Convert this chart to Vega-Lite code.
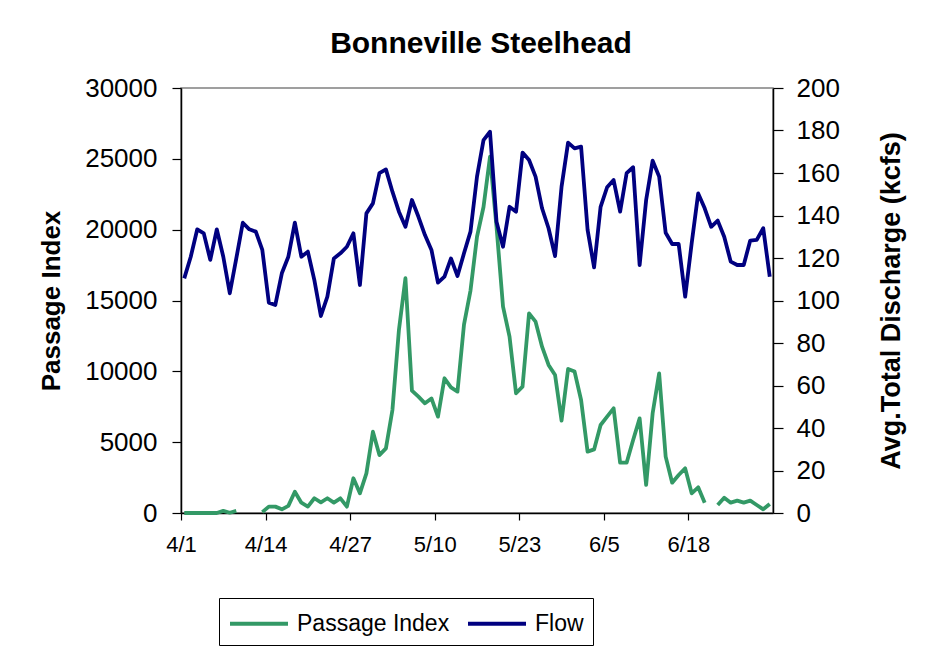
{
  "$schema": "https://vega.github.io/schema/vega-lite/v6.json",
  "autosize": "none",
  "width": 592,
  "height": 425,
  "padding": {"left": 181, "top": 88, "right": 167, "bottom": 140},
  "background": "white",
  "title": {
    "text": "Bonneville Steelhead",
    "font": "Liberation Sans",
    "fontSize": 30,
    "fontWeight": "bold",
    "color": "black",
    "anchor": "middle",
    "offset": 16,
    "dx": 4
  },
  "data": {
    "values": [
      {"date": "2004/04/01", "passage": 0, "flow": 110.4},
      {"date": "2004/04/02", "passage": 0, "flow": 120.6},
      {"date": "2004/04/03", "passage": 0, "flow": 133.5},
      {"date": "2004/04/04", "passage": 0, "flow": 131.6},
      {"date": "2004/04/05", "passage": 0, "flow": 119.1},
      {"date": "2004/04/06", "passage": 0, "flow": 133.5},
      {"date": "2004/04/07", "passage": 150, "flow": 120.6},
      {"date": "2004/04/08", "passage": 20, "flow": 103.4},
      {"date": "2004/04/09", "passage": 150, "flow": 119.8},
      {"date": "2004/04/10", "passage": null, "flow": 136.6},
      {"date": "2004/04/11", "passage": null, "flow": 133.5},
      {"date": "2004/04/12", "passage": null, "flow": 132.4},
      {"date": "2004/04/13", "passage": 60, "flow": 123.8},
      {"date": "2004/04/14", "passage": 450, "flow": 99.0},
      {"date": "2004/04/15", "passage": 450, "flow": 97.9},
      {"date": "2004/04/16", "passage": 260, "flow": 112.8},
      {"date": "2004/04/17", "passage": 500, "flow": 120.6},
      {"date": "2004/04/18", "passage": 1500, "flow": 136.6},
      {"date": "2004/04/19", "passage": 730, "flow": 120.6},
      {"date": "2004/04/20", "passage": 450, "flow": 123.0},
      {"date": "2004/04/21", "passage": 1040, "flow": 109.6},
      {"date": "2004/04/22", "passage": 750, "flow": 92.7},
      {"date": "2004/04/23", "passage": 1040, "flow": 101.8},
      {"date": "2004/04/24", "passage": 730, "flow": 119.8},
      {"date": "2004/04/25", "passage": 1035, "flow": 122.2},
      {"date": "2004/04/26", "passage": 450, "flow": 125.3},
      {"date": "2004/04/27", "passage": 2450, "flow": 131.6},
      {"date": "2004/04/28", "passage": 1390, "flow": 107.3},
      {"date": "2004/04/29", "passage": 2800, "flow": 141.0},
      {"date": "2004/04/30", "passage": 5740, "flow": 145.7},
      {"date": "2004/05/01", "passage": 4090, "flow": 159.9},
      {"date": "2004/05/02", "passage": 4560, "flow": 161.7},
      {"date": "2004/05/03", "passage": 7270, "flow": 151.2},
      {"date": "2004/05/04", "passage": 12920, "flow": 141.8},
      {"date": "2004/05/05", "passage": 16570, "flow": 134.7},
      {"date": "2004/05/06", "passage": 8640, "flow": 147.3},
      {"date": "2004/05/07", "passage": 8210, "flow": 139.4},
      {"date": "2004/05/08", "passage": 7740, "flow": 130.8},
      {"date": "2004/05/09", "passage": 8090, "flow": 123.8},
      {"date": "2004/05/10", "passage": 6800, "flow": 108.4},
      {"date": "2004/05/11", "passage": 9510, "flow": 111.2},
      {"date": "2004/05/12", "passage": 8870, "flow": 119.8},
      {"date": "2004/05/13", "passage": 8570, "flow": 111.5},
      {"date": "2004/05/14", "passage": 13300, "flow": 122.2},
      {"date": "2004/05/15", "passage": 15700, "flow": 132.4},
      {"date": "2004/05/16", "passage": 19500, "flow": 158.3},
      {"date": "2004/05/17", "passage": 21600, "flow": 175.5},
      {"date": "2004/05/18", "passage": 25150, "flow": 179.4},
      {"date": "2004/05/19", "passage": 20200, "flow": 137.1},
      {"date": "2004/05/20", "passage": 14570, "flow": 125.3},
      {"date": "2004/05/21", "passage": 12450, "flow": 144.1},
      {"date": "2004/05/22", "passage": 8450, "flow": 141.8},
      {"date": "2004/05/23", "passage": 8920, "flow": 169.6},
      {"date": "2004/05/24", "passage": 14090, "flow": 166.1},
      {"date": "2004/05/25", "passage": 13510, "flow": 158.3},
      {"date": "2004/05/26", "passage": 11740, "flow": 143.4},
      {"date": "2004/05/27", "passage": 10450, "flow": 134.0},
      {"date": "2004/05/28", "passage": 9740, "flow": 120.9},
      {"date": "2004/05/29", "passage": 6520, "flow": 153.6},
      {"date": "2004/05/30", "passage": 10170, "flow": 174.3},
      {"date": "2004/05/31", "passage": 9980, "flow": 171.6},
      {"date": "2004/06/01", "passage": 7980, "flow": 172.4},
      {"date": "2004/06/02", "passage": 4330, "flow": 133.2},
      {"date": "2004/06/03", "passage": 4490, "flow": 115.6},
      {"date": "2004/06/04", "passage": 6210, "flow": 144.1},
      {"date": "2004/06/05", "passage": 6800, "flow": 153.3},
      {"date": "2004/06/06", "passage": 7390, "flow": 156.7},
      {"date": "2004/06/07", "passage": 3550, "flow": 141.8},
      {"date": "2004/06/08", "passage": 3550, "flow": 159.9},
      {"date": "2004/06/09", "passage": 5150, "flow": 162.7},
      {"date": "2004/06/10", "passage": 6680, "flow": 116.7},
      {"date": "2004/06/11", "passage": 1980, "flow": 147.3},
      {"date": "2004/06/12", "passage": 7040, "flow": 165.8},
      {"date": "2004/06/13", "passage": 9860, "flow": 158.3},
      {"date": "2004/06/14", "passage": 3980, "flow": 131.9},
      {"date": "2004/06/15", "passage": 2140, "flow": 126.6},
      {"date": "2004/06/16", "passage": 2680, "flow": 126.6},
      {"date": "2004/06/17", "passage": 3150, "flow": 101.8},
      {"date": "2004/06/18", "passage": 1390, "flow": 126.9},
      {"date": "2004/06/19", "passage": 1810, "flow": 150.4},
      {"date": "2004/06/20", "passage": 730, "flow": 143.4},
      {"date": "2004/06/21", "passage": null, "flow": 134.7},
      {"date": "2004/06/22", "passage": 565, "flow": 137.6},
      {"date": "2004/06/23", "passage": 1080, "flow": 130.0},
      {"date": "2004/06/24", "passage": 730, "flow": 118.3},
      {"date": "2004/06/25", "passage": 870, "flow": 116.7},
      {"date": "2004/06/26", "passage": 730, "flow": 116.7},
      {"date": "2004/06/27", "passage": 870, "flow": 128.2},
      {"date": "2004/06/28", "passage": 565, "flow": 128.5},
      {"date": "2004/06/29", "passage": 260, "flow": 134.0},
      {"date": "2004/06/30", "passage": 635, "flow": 111.2}
    ]
  },
  "encoding": {
    "x": {
      "field": "date",
      "timeUnit": "yearmonthdate",
      "type": "temporal",
      "bandPosition": 0.5,
      "title": null,
      "scale": {
        "domain": [
          {"year": 2004, "month": 4, "date": 1},
          {"year": 2004, "month": 7, "date": 1}
        ]
      },
      "axis": {
        "values": [
          {"year": 2004, "month": 4, "date": 1},
          {"year": 2004, "month": 4, "date": 14},
          {"year": 2004, "month": 4, "date": 27},
          {"year": 2004, "month": 5, "date": 10},
          {"year": 2004, "month": 5, "date": 23},
          {"year": 2004, "month": 6, "date": 5},
          {"year": 2004, "month": 6, "date": 18}
        ],
        "format": "%-m/%-d",
        "labelFontSize": 22,
        "tickSize": 7,
        "labelPadding": 14,
        "grid": false,
        "labelFlush": false,
        "labelOverlap": false
      }
    }
  },
  "layer": [
    {
      "mark": {"type": "line", "strokeWidth": 3.8, "invalid": "break-paths-show-domains", "strokeJoin": "round"},
      "encoding": {
        "y": {
          "field": "passage",
          "type": "quantitative",
          "title": "Passage Index",
          "scale": {"domain": [0, 30000], "nice": false},
          "axis": {
            "orient": "left",
            "values": [0, 5000, 10000, 15000, 20000, 25000, 30000],
            "format": "d",
            "labelFontSize": 26,
            "tickSize": 9,
            "labelPadding": 15,
            "titlePadding": 20,
            "titleFontSize": 26,
            "grid": false
          }
        },
        "color": {
          "datum": "Passage Index",
          "type": "nominal",
          "scale": {"domain": ["Passage Index", "Flow"], "range": ["#339966", "#000080"]},
          "legend": {
            "title": null,
            "orient": "none",
            "legendX": 38,
            "legendY": 510,
            "direction": "horizontal",
            "strokeColor": "black",
            "fillColor": "white",
            "padding": 9,
            "symbolType": "M-1,0H3",
            "symbolSize": 841,
            "symbolStrokeWidth": 4,
            "labelFontSize": 23,
            "labelFont": "Liberation Sans",
            "labelColor": "black",
            "labelOffset": 36,
            "columnPadding": 10
          }
        }
      }
    },
    {
      "mark": {"type": "line", "strokeWidth": 3.8, "strokeJoin": "round"},
      "encoding": {
        "y": {
          "field": "flow",
          "type": "quantitative",
          "title": "Avg.Total Discharge (kcfs)",
          "scale": {"domain": [0, 200], "nice": false},
          "axis": {
            "orient": "right",
            "values": [0, 20, 40, 60, 80, 100, 120, 140, 160, 180, 200],
            "labelFontSize": 26,
            "tickSize": 10,
            "labelPadding": 13,
            "titlePadding": 39,
            "titleFontSize": 27,
            "titleAngle": 270,
            "titleBaseline": "top",
            "grid": false
          }
        },
        "color": {"datum": "Flow", "type": "nominal"}
      }
    }
  ],
  "resolve": {"scale": {"y": "independent"}},
  "config": {
    "font": "Liberation Sans",
    "view": {"stroke": "#808080", "strokeWidth": 1.5},
    "axis": {
      "domainColor": "black",
      "domainWidth": 1.5,
      "tickColor": "black",
      "tickWidth": 1.2,
      "labelColor": "black",
      "titleColor": "black",
      "labelFont": "Liberation Sans",
      "titleFont": "Liberation Sans",
      "titleFontWeight": "bold"
    }
  }
}
